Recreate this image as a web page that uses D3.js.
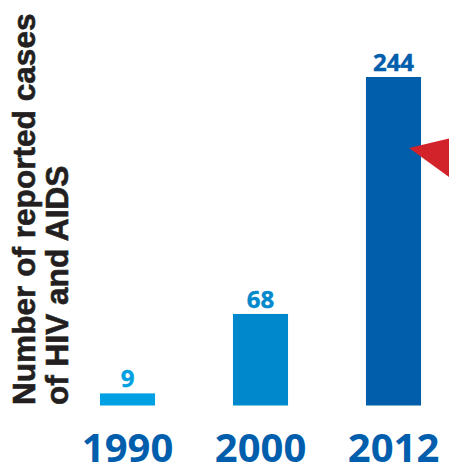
<!DOCTYPE html>
<html>
<head>
<meta charset="utf-8">
<script src="https://cdn.jsdelivr.net/npm/d3@7"></script>
<style>
html,body{margin:0;padding:0;background:#fff;}
svg{display:block;}
</style>
</head>
<body>
<svg id="chart" width="449" height="465"></svg>
<script>
const years = ["1990", "2000", "2012"];
const cases = [9, 68, 244];
const barColors = ["#00a0e2", "#0088cc", "#005eab"];
const titleLines = ["Number of reported cases", "of HIV and AIDS"];

const W = 449, H = 465;
const svg = d3.select("#chart");

const x = d3.scaleBand()
  .domain(years)
  .range([61, 460])
  .paddingInner(0.586)
  .paddingOuter(0.293);

const baseY = 405.5;
const y = d3.scaleLinear().domain([0, 244]).range([baseY, 77]);

// bars
svg.selectAll("rect.bar")
  .data(years)
  .join("rect")
  .attr("class", "bar")
  .attr("x", d => x(d))
  .attr("width", x.bandwidth())
  .attr("y", (d, i) => y(cases[i]))
  .attr("height", (d, i) => baseY - y(cases[i]))
  .attr("fill", (d, i) => barColors[i]);

// value labels
svg.selectAll("text.val")
  .data(years)
  .join("text")
  .attr("class", "val")
  .attr("x", d => x(d) + x.bandwidth() / 2)
  .attr("y", (d, i) => y(cases[i]) - 6)
  .attr("text-anchor", "middle")
  .attr("font-family", "'Open Sans', sans-serif")
  .attr("font-weight", 700)
  .attr("font-size", 24)
  .attr("stroke-width", 0.4)
  .attr("fill", (d, i) => i === 2 ? "#005ead" : barColors[i])
  .attr("stroke", (d, i) => i === 2 ? "#005ead" : barColors[i])
  .text((d, i) => cases[i]);

// x axis labels
const xAxis = d3.axisBottom(x).tickSize(0).tickPadding(0);
const gx = svg.append("g").attr("transform", "translate(0,462)").call(xAxis);
gx.select(".domain").remove();
gx.selectAll("text")
  .attr("y", 0)
  .attr("dy", 0)
  .attr("font-family", "'Open Sans', sans-serif")
  .attr("font-weight", 700)
  .attr("font-size", 40)
  .attr("fill", "#005ead");

// y title
const title = svg.append("text")
  .attr("transform", "translate(0,405) rotate(-90)")
  .attr("font-family", "'Liberation Sans', Arial, sans-serif")
  .attr("font-weight", 700)
  .attr("font-size", 31.6)
  .attr("fill", "#231f20")
  .attr("stroke", "#231f20")
  .attr("stroke-width", 0.6);
title.selectAll("tspan")
  .data(titleLines)
  .join("tspan")
  .attr("x", 0)
  .attr("y", (d, i) => i === 0 ? 35 : 68)
  .text(d => d);

// red pointer triangle (decorative)
const bx = x("2012") + x.bandwidth();
svg.append("path")
  .attr("d", `M${bx - 12},148 L${W},138.5 L${W},177 Z`)
  .attr("fill", "#d2232a");
</script>
</body>
</html>
